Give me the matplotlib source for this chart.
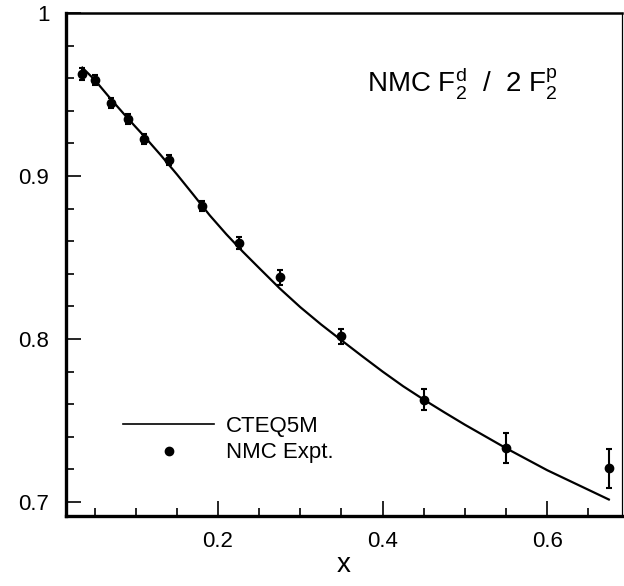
import numpy as np
import matplotlib
matplotlib.use("Agg")
import matplotlib.pyplot as plt
from matplotlib.lines import Line2D
from matplotlib.ticker import MultipleLocator, FixedLocator, FixedFormatter

plt.rcParams['font.family'] = ['Liberation Sans', 'DejaVu Sans']
plt.rcParams['mathtext.fontset'] = 'custom'
plt.rcParams['mathtext.rm'] = 'Liberation Sans'
plt.rcParams['mathtext.it'] = 'Liberation Sans'
plt.rcParams['mathtext.default'] = 'regular'

# NMC data points F2d / 2 F2p
x_nmc = [0.035, 0.05, 0.07, 0.09, 0.11, 0.14, 0.18, 0.225, 0.275, 0.35, 0.45, 0.55, 0.675]
y_nmc = [0.9626, 0.9589, 0.945, 0.935, 0.9229, 0.9098, 0.8818, 0.859, 0.8379, 0.8017, 0.7628, 0.733, 0.7207]
err_nmc = [0.0037, 0.003, 0.003, 0.003, 0.003, 0.003, 0.003, 0.0035, 0.0045, 0.0047, 0.0065, 0.0092, 0.012]

# CTEQ5M curve
x_cteq = [0.035, 0.05, 0.07, 0.09, 0.11, 0.13, 0.15, 0.17, 0.19, 0.21, 0.23, 0.25, 0.275,
          0.3, 0.325, 0.35, 0.375, 0.4, 0.425, 0.45, 0.475, 0.5, 0.55, 0.6, 0.65, 0.675]
y_cteq = [0.9665, 0.959, 0.947, 0.9355, 0.9245, 0.9130, 0.9010, 0.8885, 0.8758, 0.8643, 0.8536,
          0.8435, 0.8310, 0.8195, 0.8090, 0.7992, 0.7895, 0.7800, 0.7710, 0.7628, 0.7550,
          0.7474, 0.7330, 0.7195, 0.7075, 0.7015]

fig = plt.figure(figsize=(6.24, 5.86), dpi=100)
ax = fig.add_axes([0.1058, 0.1195, 0.8910, 0.8583])

ax.plot(x_cteq, y_cteq, color='black', lw=1.6)
ax.errorbar(x_nmc, y_nmc, yerr=err_nmc, fmt='o', color='black', ms=6,
            elinewidth=1.5, capsize=2.5, capthick=1.5)

ax.set_xlim(0.0152, 0.691)
ax.set_ylim(0.6914, 1.0)

ax.xaxis.set_major_locator(FixedLocator([0.2, 0.4, 0.6]))
ax.xaxis.set_minor_locator(MultipleLocator(0.05))
ax.yaxis.set_major_locator(FixedLocator([0.7, 0.8, 0.9, 1.0]))
ax.yaxis.set_major_formatter(FixedFormatter(['0.7', '0.8', '0.9', '1']))
ax.yaxis.set_minor_locator(MultipleLocator(0.02))

ax.tick_params(which='both', direction='in', top=False, right=False, width=1.2, labelsize=16)
ax.tick_params(which='major', length=11, pad=11)
ax.tick_params(axis='y', which='major', pad=12)
ax.tick_params(which='minor', length=6)

ax.spines['left'].set_linewidth(2.4)
ax.spines['bottom'].set_linewidth(2.4)
ax.spines['top'].set_linewidth(1.8)
ax.spines['right'].set_linewidth(0.9)

ax.set_xlabel('x', fontsize=20, labelpad=0)

ax.text(0.541, 0.843, 'NMC F$_2^d$  /  2 F$_2^p$', transform=ax.transAxes,
        fontsize=20, ha='left', va='baseline')

handles = [Line2D([], [], color='black', lw=1.2),
           Line2D([], [], color='black', marker='o', ls='none', ms=6)]
ax.legend(handles, ['CTEQ5M', 'NMC Expt.'], loc='upper left',
          bbox_to_anchor=(0.1025, 0.199), frameon=False, fontsize=16,
          handlelength=4.1, handletextpad=0.55, labelspacing=0.25,
          borderpad=0, borderaxespad=0)

fig.savefig('out.png', dpi=100)
